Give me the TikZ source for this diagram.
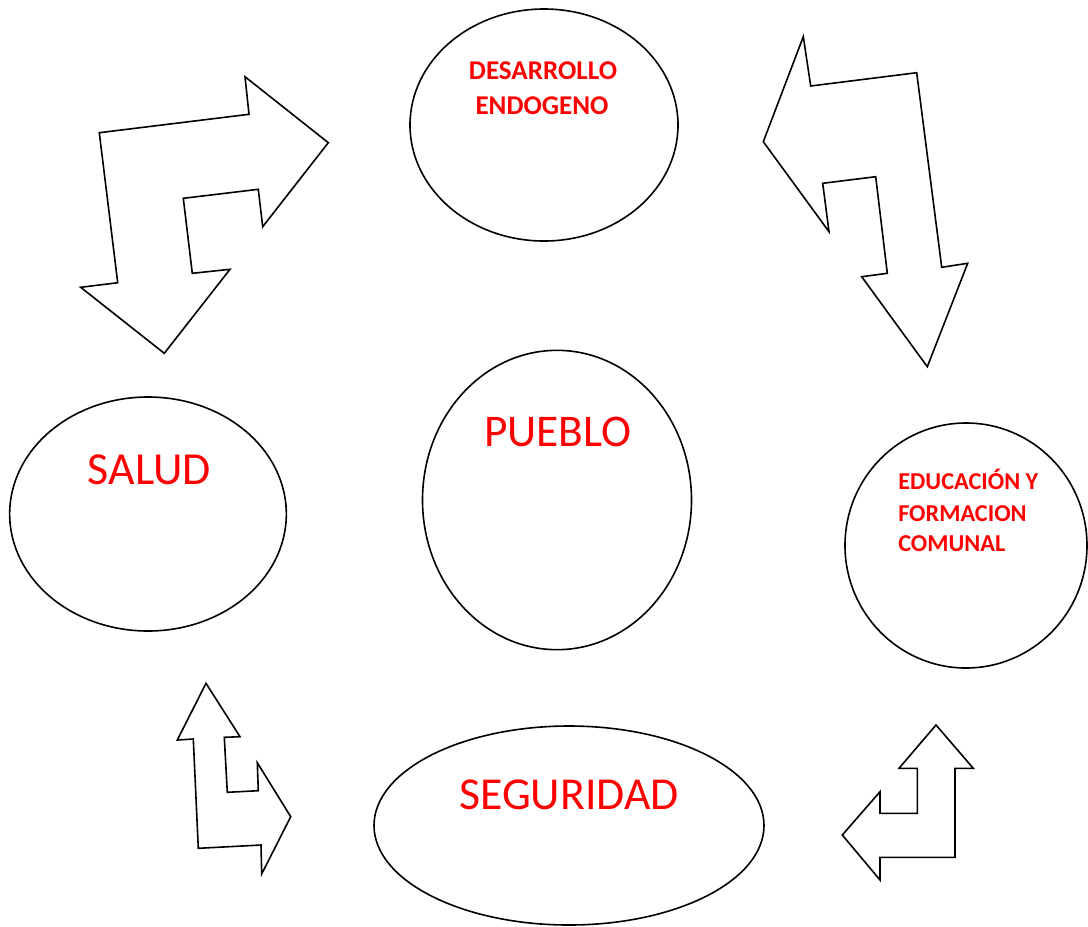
\documentclass[tikz,border=0pt]{standalone}
\usepackage{fontspec}
\setmainfont{Carlito}
\usetikzlibrary{shapes}
\tikzstyle{bubble}=[ellipse,draw,line width=1.2pt,inner sep=0pt]
\tikzstyle{tag}=[text=red,inner sep=0pt,anchor=base]
\tikzstyle{turnarrow} = [draw,line width=1.2pt,line join=miter]

\begin{document}
\begin{tikzpicture}[x=0.75pt,y=-0.75pt]
        \useasboundingbox (0,0) rectangle (1088,926);
        % circles
        \node[bubble,minimum width=201pt,minimum height=174pt] (desarrollo) at (544,125) {};
        \node[bubble,minimum width=201.75pt,minimum height=224.5pt] (pueblo) at (557,500) {};
        \node[bubble,minimum width=207.5pt,minimum height=175.5pt] (salud) at (148,514) {};
        \node[bubble,minimum width=181.5pt,minimum height=183.75pt] (educacion) at (966,545.5) {};
        \node[bubble,minimum width=292.5pt,minimum height=149.25pt] (seguridad) at (569,825.5) {};
        % texts
        \node[tag,font=\bfseries\fontsize{20.3}{24}\selectfont] (desarrollo1) at (543,79) {DESARROLLO};
        \node[tag,font=\bfseries\fontsize{20.3}{24}\selectfont] (desarrollo2) at (542,114) {ENDOGENO};
        \node[tag,font=\fontsize{34}{40}\selectfont] (puebloT) at (558,446) {PUEBLO};
        \node[tag,font=\fontsize{34.4}{40}\selectfont] (saludT) at (149.5,484) {SALUD};
        \node[tag,font=\fontsize{34.3}{40}\selectfont] (seguridadT) at (569,809) {SEGURIDAD};
        \node[tag,anchor=base west,font=\bfseries\fontsize{18.2}{22}\selectfont] (educacion1) at (898,489) {EDUCACIÓN Y};
        \node[tag,anchor=base west,font=\bfseries\fontsize{18.2}{22}\selectfont] (educacion2) at (898,521) {FORMACION};
        \node[tag,anchor=base west,font=\bfseries\fontsize{18.2}{22}\selectfont] (educacion3) at (898,551) {COMUNAL};
        % block arrows
        \draw[turnarrow] (99.3,132.7) -- (249,114.3) -- (245,76.7) -- (328.3,142.7) -- (262.7,226.7)
          -- (258.3,189.3) -- (183.3,198.3) -- (192.3,273.3) -- (230,269.3) -- (164.3,353.3)
          -- (80.7,287.3) -- (117.7,282.7) -- cycle;
        \draw[turnarrow] (803.3,36.7) -- (810.7,86) -- (916.7,72.7) -- (941.7,267.3) -- (967.7,263.3)
          -- (927.3,366.7) -- (861.7,276.7) -- (887.3,273.3) -- (875.7,176.7) -- (822.7,183.3)
          -- (829,231.7) -- (763.3,141.7) -- cycle;
        \draw[turnarrow] (206,683.3) -- (240,736.7) -- (224.3,737.3) -- (227.3,792.3) -- (258.3,790.7)
          -- (257.3,762.7) -- (290.7,816.7) -- (261.7,874) -- (261,845) -- (198.3,848.3)
          -- (193.3,739) -- (177.3,740) -- cycle;
        \draw[turnarrow] (936,725) -- (973.3,768.3) -- (955,768.3) -- (955,857.3) -- (880,857.3)
          -- (880,880) -- (842.3,835) -- (880,791.7) -- (880,813.3) -- (917.3,813.3)
          -- (917.3,768.3) -- (899,768.3) -- cycle;
      \end{tikzpicture}
\end{document}
